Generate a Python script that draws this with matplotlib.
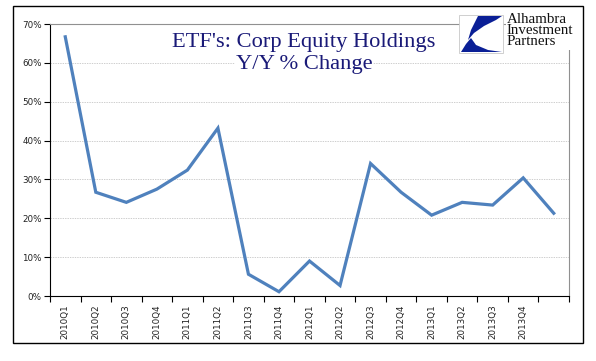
import matplotlib
matplotlib.use('Agg')
import matplotlib.pyplot as plt
from matplotlib.patches import Rectangle, Polygon

quarters = ['2010Q1', '2010Q2', '2010Q3', '2010Q4',
            '2011Q1', '2011Q2', '2011Q3', '2011Q4',
            '2012Q1', '2012Q2', '2012Q3', '2012Q4',
            '2013Q1', '2013Q2', '2013Q3', '2013Q4', '']
yoy_change = [66.7, 26.7, 24.1, 27.5,
              32.4, 43.2, 5.6, 1.1,
              9.0, 2.7, 34.1, 26.7,
              20.8, 24.1, 23.4, 30.4, 21.3]
y_ticks = [0, 10, 20, 30, 40, 50, 60, 70]

W, H = 596, 361


def fx(px):
    return px / W


def fy(py):
    return 1 - py / H


fig = plt.figure(figsize=(W / 100, H / 100), dpi=100)
ax = fig.add_axes([fx(50), fy(296), fx(569) - fx(50), fy(24) - fy(296)])

x = list(range(len(quarters)))
ax.plot(x, yoy_change, color='#4F81BD', lw=2.3, solid_joinstyle='miter', zorder=3)

ax.set_xlim(-0.5, len(quarters) - 0.5)
ax.set_ylim(0, 70)
ax.set_yticks(y_ticks)
ax.set_yticklabels([f'{v}%' for v in y_ticks], fontsize=6.3, color='#222222')
ax.set_xticks(x)
ax.set_xticklabels(quarters, rotation=90, fontsize=6.3, color='#222222')
ax.set_xticks([i - 0.5 for i in range(len(quarters) + 1)], minor=True)
ax.tick_params(axis='x', which='major', length=0, pad=6)
ax.tick_params(axis='x', which='minor', length=4, width=0.8, direction='out')
ax.tick_params(axis='y', length=4, width=0.8, direction='out', pad=2)

for v in y_ticks[1:-1]:
    ax.axhline(v, color='#bbbbbb', lw=0.5, ls=(0, (2, 1.5)), zorder=1)

ax.spines['left'].set_color('black')
ax.spines['bottom'].set_color('black')
ax.spines['top'].set_color('#909090')
ax.spines['right'].set_color('#909090')
for s in ax.spines.values():
    s.set_linewidth(0.8)

# title
title_kw = dict(ha='center', va='baseline', fontsize=16.2, color='#1a1a78',
                family='Liberation Serif', transform=fig.transFigure,
                bbox=dict(facecolor='white', edgecolor='none', pad=0.5), zorder=5)
fig.text(fx(304), fy(47), "ETF's: Corp Equity Holdings", **title_kw)
fig.text(fx(304), fy(69), 'Y/Y % Change', **title_kw)

# logo
fig.patches.append(Rectangle((fx(459), fy(53)), fx(503) - fx(459), fy(15) - fy(53),
                             transform=fig.transFigure, facecolor='white',
                             edgecolor='#c8c8c8', lw=0.6, zorder=6))
blue = '#0a1f96'
fig.patches.append(Polygon([(fx(478), fy(16)), (fx(502), fy(16)), (fx(496), fy(20)),
                            (fx(484), fy(26)), (fx(474), fy(33)), (fx(468), fy(40)),
                            (fx(471), fy(30))],
                           transform=fig.transFigure, facecolor=blue, edgecolor='none', zorder=7))
fig.patches.append(Polygon([(fx(461), fy(52)), (fx(466), fy(44)), (fx(471), fy(38)),
                            (fx(476), fy(45)), (fx(488), fy(50)), (fx(502), fy(52))],
                           transform=fig.transFigure, facecolor=blue, edgecolor='none', zorder=7))
fig.text(fx(507), fy(13), 'Alhambra\nInvestment\nPartners', ha='left', va='top',
         fontsize=10.8, linespacing=0.82, family='Liberation Serif', color='#111111',
         transform=fig.transFigure,
         bbox=dict(facecolor='white', edgecolor='none', pad=1), zorder=6)

# outer frame
fig.patches.append(Rectangle((fx(13), fy(343)), fx(583) - fx(13), fy(6) - fy(343),
                             transform=fig.transFigure, facecolor='none',
                             edgecolor='black', lw=1, zorder=8))

fig.savefig('out.png', dpi=100)
